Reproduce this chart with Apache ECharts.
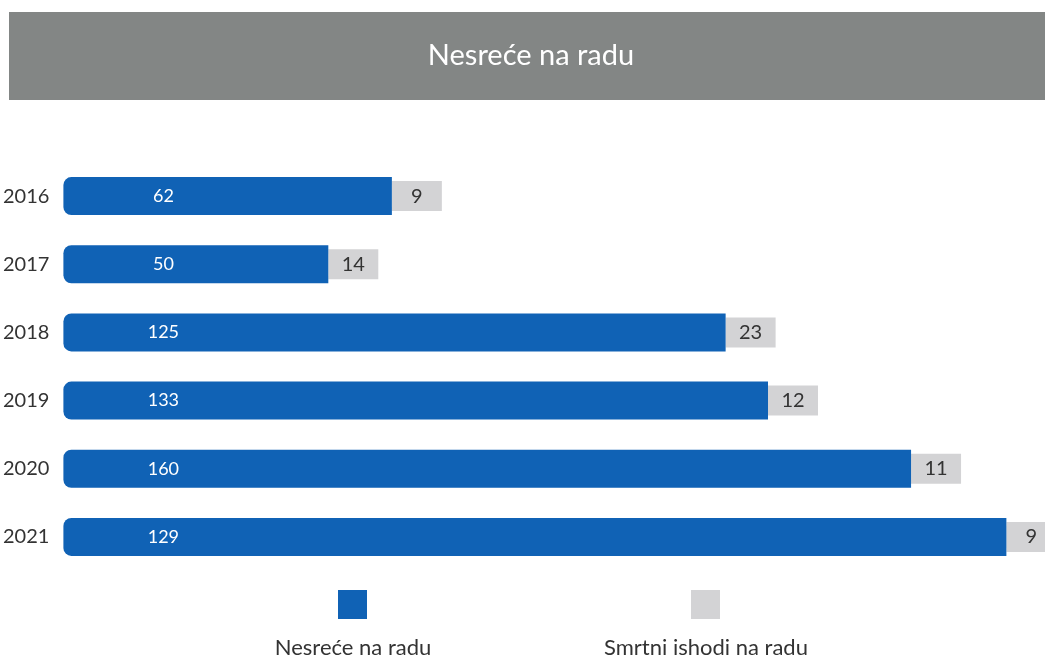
<!DOCTYPE html>
<html>
<head>
<meta charset="utf-8">
<script src="https://cdn.jsdelivr.net/npm/echarts@6/dist/echarts.min.js"></script>
<style>html,body{margin:0;padding:0;background:#fff}#c{width:1045px;height:659px}</style>
</head>
<body>
<div id="c"></div>
<script>
const titleText = 'Nesreće na radu';
const godine = ['2016', '2017', '2018', '2019', '2020', '2021'];
// values printed on the blue bars
const nesrece = [62, 50, 125, 133, 160, 129];
// drawn length of the blue bars (2021 bar is drawn longer than its label)
const nesreceDuljina = [62, 50, 125, 133, 160, 178];
// values printed in the grey boxes
const smrtni = [9, 14, 23, 12, 11, 9];
const seriesNames = ['Nesreće na radu', 'Smrtni ishodi na radu'];

const BLUE = '#1062b5', GREY = '#d3d3d5', TXT = '#333333';
const FONT = 'Lato, "Open Sans", sans-serif';

const chart = echarts.init(document.getElementById('c'));
chart.setOption({
  animation: false,
  textStyle: { fontFamily: FONT },
  graphic: [
    { type: 'rect', left: 9, top: 12, shape: { width: 1036, height: 88 }, style: { fill: '#838685' }, z: 0 },
    { type: 'text', x: 531, y: 56, style: { text: titleText, fill: '#fff', font: '29px ' + FONT, textAlign: 'center', textVerticalAlign: 'middle' } },
    { type: 'text', x: 353, y: 648, style: { text: seriesNames[0], fill: TXT, font: '22px ' + FONT, textAlign: 'center', textVerticalAlign: 'middle' } },
    { type: 'text', x: 706, y: 648, style: { text: seriesNames[1], fill: TXT, font: '22px ' + FONT, textAlign: 'center', textVerticalAlign: 'middle' } }
  ],
  legend: [
    { data: [{ name: seriesNames[0], itemStyle: { color: BLUE } }], left: 338, top: 590, padding: 0, itemWidth: 29, itemHeight: 29, icon: 'rect', formatter: () => '', selectedMode: false },
    { data: [{ name: seriesNames[1], itemStyle: { color: GREY } }], left: 691, top: 590, padding: 0, itemWidth: 29, itemHeight: 29, icon: 'rect', formatter: () => '', selectedMode: false }
  ],
  grid: { left: 63, right: 28, top: 162, bottom: 88, containLabel: false },
  xAxis: { type: 'value', min: 0, max: 180, show: false },
  yAxis: {
    type: 'category', data: godine, inverse: true,
    axisLine: { show: false }, axisTick: { show: false },
    axisLabel: { color: TXT, fontSize: 20, margin: 14, fontFamily: FONT }
  },
  series: [
    {
      name: seriesNames[1], type: 'custom', z: 1, clip: false,
      itemStyle: { color: GREY },
      encode: { x: 0, y: 1 },
      data: godine.map((g, i) => [nesreceDuljina[i], i, smrtni[i]]),
      renderItem: (params, api) => {
        const p = api.coord([api.value(0), api.value(1)]);
        return {
          type: 'group',
          children: [
            { type: 'rect', shape: { x: p[0], y: p[1] - 15, width: 50, height: 30 }, style: { fill: GREY } },
            { type: 'text', x: p[0] + 25, y: p[1], style: { text: String(api.value(2)), fill: TXT, font: '20px ' + FONT, textAlign: 'center', textVerticalAlign: 'middle' } }
          ]
        };
      }
    },
    {
      name: seriesNames[0], type: 'bar', z: 2, barWidth: 38,
      itemStyle: { color: BLUE, borderRadius: [8, 0, 0, 8] },
      label: {
        show: true, position: [100, '50%'], align: 'center', verticalAlign: 'middle',
        color: '#fff', fontSize: 18, fontFamily: FONT,
        formatter: p => String(nesrece[p.dataIndex])
      },
      data: nesreceDuljina
    }
  ]
});
</script>
</body>
</html>
